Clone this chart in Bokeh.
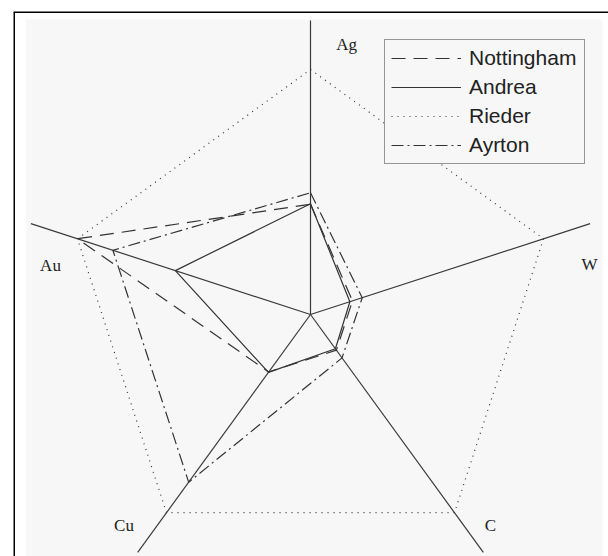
import math
from bokeh.plotting import figure
from bokeh.models import Range1d, Span, BoxAnnotation
from bokeh.core.properties import value
from bokeh.embed import file_html
from bokeh.resources import INLINE

# ---- data ----
axes_names = ["Ag", "W", "C", "Cu", "Au"]
axes_angles = [90, 18, -54, -126, 162]  # degrees

nottingham = [0.45, 0.18, 0.18, 0.29, 1.00]
andrea = [0.452, 0.169, 0.173, 0.292, 0.58]
rieder = [1.00, 1.00, 1.00, 1.00, 1.00]
ayrton = [0.497, 0.222, 0.219, 0.846, 0.848]

series_names = ["Nottingham", "Andrea", "Rieder", "Ayrton"]
series_values = [nottingham, andrea, rieder, ayrton]

# ---- style / layout ----
series_dash = ["14 8", "solid", "1 5", "12 4 2 4"]
axis_extent = 1.2
label_r = [1.112, 1.157, 1.131, 1.149, 1.080]
label_theta = [82.4, 10.2, -49.5, -131.5, 169.3]

W, H = 608, 556
BL, BT = 13, 11
FW, FH = W - BL, H - BT
CXF, CYF = 297, 303   # centre, px from frame left / top
PX = 245              # px per unit

x0, x1 = -CXF / PX, (FW - CXF) / PX
y0, y1 = -(FH - CYF) / PX, CYF / PX

p = figure(width=W, height=H, output_backend="svg", toolbar_location=None,
           x_range=Range1d(x0, x1), y_range=Range1d(y0, y1),
           x_axis_location=None, y_axis_location=None,
           min_border_left=BL, min_border_top=BT, min_border_right=0, min_border_bottom=0,
           background_fill_color="white", border_fill_color="white",
           outline_line_color=None)
p.grid.visible = False

# light gray panel
p.add_layout(BoxAnnotation(left=x0 + 12.7 / PX, right=x0 + 589 / PX,
                           top=y1 - 8 / PX, bottom=y0,
                           fill_color="#f7f7f7", fill_alpha=1.0,
                           line_color=None, level="underlay"))
# black border (top and left)
p.add_layout(Span(location=x0 + 0.5 / PX, dimension="height", line_color="black", line_width=2))
p.add_layout(Span(location=y1 - 0.5 / PX, dimension="width", line_color="black", line_width=2))

# radial axes
ax_xs, ax_ys = [], []
for a in axes_angles:
    t = math.radians(a)
    ax_xs.append([0, axis_extent * math.cos(t)])
    ax_ys.append([0, axis_extent * math.sin(t)])
p.multi_line(ax_xs, ax_ys, line_color="#3a3a3a", line_width=1.2)

# axis labels
lx = [r * math.cos(math.radians(t)) for r, t in zip(label_r, label_theta)]
ly = [r * math.sin(math.radians(t)) for r, t in zip(label_r, label_theta)]
p.text(x=lx, y=ly, text=axes_names, text_font=value("Liberation Serif"),
       text_font_size="17px", text_align="center", text_baseline="middle",
       text_color="#222222")

# series
for name, vals, dash in zip(series_names, series_values, series_dash):
    xs = [v * math.cos(math.radians(a)) for v, a in zip(vals, axes_angles)]
    ys = [v * math.sin(math.radians(a)) for v, a in zip(vals, axes_angles)]
    xs.append(xs[0]); ys.append(ys[0])
    p.line(xs, ys, line_color="#333333", line_width=1.2, line_dash=dash,
           legend_label=name)

lg = p.legend[0]
lg.location = (371, 392)
lg.background_fill_color = "#f7f7f7"
lg.background_fill_alpha = 1.0
lg.border_line_color = "#333333"
lg.border_line_width = 1
lg.label_text_font = "Liberation Sans"
lg.label_text_font_size = "21px"
lg.label_text_color = "#222222"
lg.glyph_width = 70
lg.glyph_height = 20
lg.label_height = 20
lg.label_width = 109
lg.label_standoff = 8
lg.spacing = 5
lg.padding = 6
lg.margin = 0

open("out.html", "w").write(file_html(p, INLINE))
